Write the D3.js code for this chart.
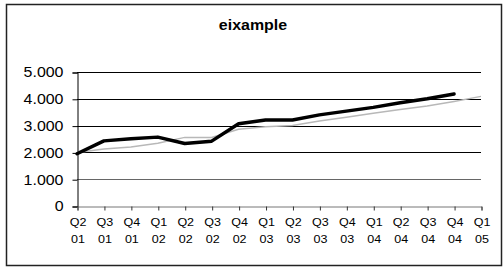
<!DOCTYPE html>
<html>
<head>
<meta charset="utf-8">
<script src="https://cdn.jsdelivr.net/npm/d3@7"></script>
<style>
  body { margin: 0; background: #fff; }
  svg { display: block; font-family: "Liberation Sans", Arial, sans-serif; }
</style>
</head>
<body>
<svg id="chart"></svg>
<script>
const quarters = ['Q2 01', 'Q3 01', 'Q4 01', 'Q1 02', 'Q2 02', 'Q3 02', 'Q4 02', 'Q1 03',
    'Q2 03', 'Q3 03', 'Q4 03', 'Q1 04', 'Q2 04', 'Q3 04', 'Q4 04', 'Q1 05'];
const actual = [1950, 2430, 2510, 2570, 2330, 2420, 3070, 3210, 3210, 3400, 3540, 3680, 3850, 4000, 4180, null];
const trend = [2000, 2130, 2200, 2340, 2560, 2560, 2860, 2960, 3000, 3170, 3310, 3460, 3600, 3730, 3900, 4090];
const yTicks = [0, 1000, 2000, 3000, 4000, 5000];

const [width, height] = [504, 269];
const plot = { left: 77, right: 481, top: 72, bottom: 206 };
const stretch = 1.14; // the text in the picture is drawn a bit wide

const svg = d3.select('#chart')
    .attr('width', width)
    .attr('height', height);

// outer frame
svg.append('rect')
    .attr('x', 6.5).attr('y', 4.5)
    .attr('width', 495).attr('height', 261)
    .attr('fill', 'none')
    .attr('stroke', '#222')
    .attr('stroke-width', 1.5);

svg.append('text')
    .attr('transform', `translate(253,30) scale(${stretch},1)`)
    .attr('text-anchor', 'middle')
    .attr('font-size', 14)
    .attr('font-weight', 'bold')
    .text('eixample');

const xScale = d3.scalePoint()
    .domain(quarters)
    .range([plot.left, plot.right]);

const yScale = d3.scaleLinear()
    .domain([0, 5000])
    .range([plot.bottom, plot.top]);

const fmt = d => d3.format(',')(d).replace(/,/g, '.');

// gridlines
svg.append('g')
    .selectAll('line')
    .data(yTicks.filter(d => d > 0))
    .join('line')
    .attr('x1', plot.left).attr('x2', plot.right)
    .attr('y1', d => Math.round(yScale(d)) + 0.5)
    .attr('y2', d => Math.round(yScale(d)) + 0.5)
    .attr('stroke', d => d === 1000 ? '#666' : '#000')
    .attr('stroke-width', 1);

// y axis
const yAxis = svg.append('g')
    .attr('transform', `translate(${plot.left + 0.5},0.5)`)
    .call(d3.axisLeft(yScale).tickValues(yTicks).tickFormat(fmt).tickSize(5).tickPadding(9));
yAxis.select('.domain').attr('stroke', '#000');
yAxis.selectAll('.tick line').attr('stroke', '#000');
yAxis.selectAll('text')
    .attr('font-size', 14)
    .attr('fill', '#000')
    .attr('font-family', '"Liberation Sans", Arial, sans-serif')
    .attr('transform', function () { return `translate(${this.getAttribute('x')},0) scale(${stretch},1)`; })
    .attr('x', 0);

// x axis
const xAxis = svg.append('g')
    .attr('transform', `translate(0.5,${plot.bottom + 0.5})`)
    .call(d3.axisBottom(xScale).tickSize(4).tickFormat(''));
xAxis.select('.domain').attr('stroke', '#777');
xAxis.selectAll('.tick line').attr('stroke', '#333');

const labels = xAxis.selectAll('.tick')
    .append('text')
    .attr('fill', '#000')
    .attr('font-size', 11)
    .attr('text-anchor', 'middle')
    .attr('transform', `scale(${stretch},1)`)
    .attr('font-family', '"Liberation Sans", Arial, sans-serif');
labels.append('tspan').attr('x', 0).attr('y', 20).text(d => d.split(' ')[0]);
labels.append('tspan').attr('x', 0).attr('y', 37).text(d => d.split(' ')[1]);

const line = d3.line()
    .defined(d => d[1] != null)
    .x(d => xScale(d[0]))
    .y(d => yScale(d[1]));

svg.append('path')
    .datum(quarters.map((q, i) => [q, trend[i]]))
    .attr('fill', 'none')
    .attr('stroke', '#b8b8b8')
    .attr('stroke-width', 1.5)
    .attr('d', line);

svg.append('path')
    .datum(quarters.map((q, i) => [q, actual[i]]))
    .attr('fill', 'none')
    .attr('stroke', '#000')
    .attr('stroke-width', 3.5)
    .attr('stroke-linejoin', 'round')
    .attr('stroke-linecap', 'round')
    .attr('d', line);
</script>
</body>
</html>
